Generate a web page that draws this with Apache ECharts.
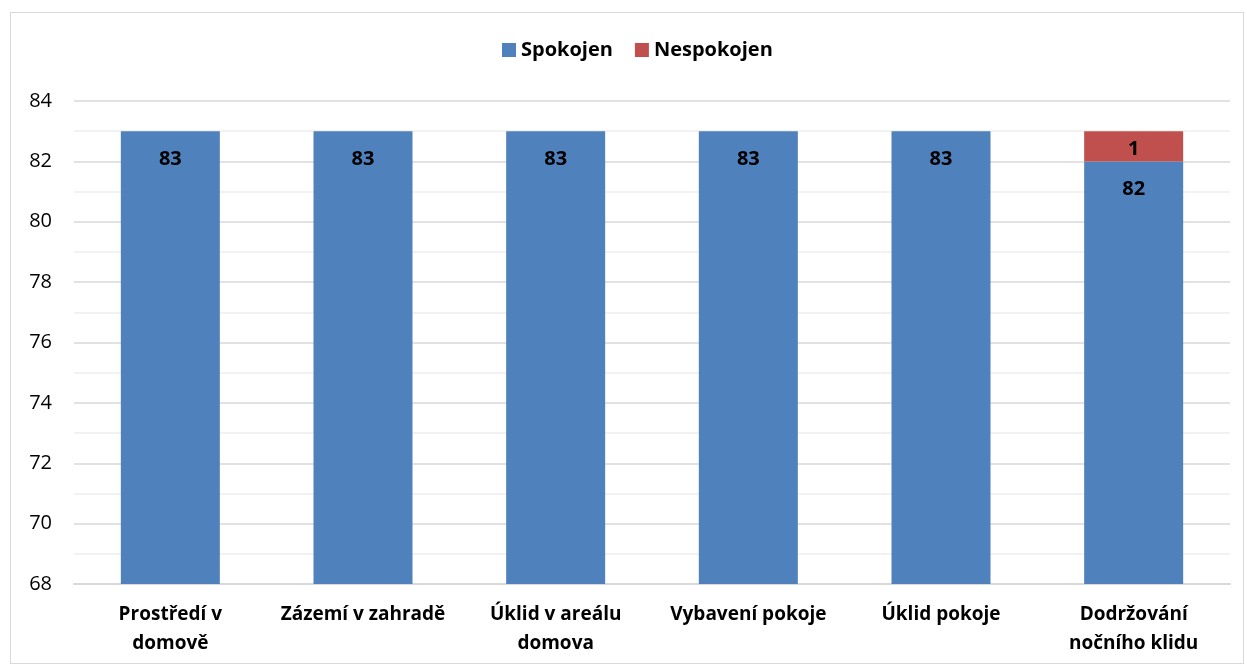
<!DOCTYPE html>
<html>
<head>
<meta charset="utf-8">
<script src="https://cdn.jsdelivr.net/npm/echarts@6/dist/echarts.min.js"></script>
<style>
  html, body { margin: 0; padding: 0; background: #fff; }
  .box {
    position: absolute; left: 10px; top: 12px; width: 1234px; height: 652px;
    border: 1px solid #d9d9d9; box-sizing: border-box;
  }
  #chart { position: absolute; left: 0; top: 0; width: 1247px; height: 667px; }
</style>
</head>
<body>
<div class="box"></div>
<div id="chart"></div>
<script>
// categories and values
const categories = [
  'Prostředí v\ndomově',
  'Zázemí v zahradě',
  'Úklid v areálu\ndomova',
  'Vybavení pokoje',
  'Úklid pokoje',
  'Dodržování\nnočního klidu'
];
const spokojen = [83, 83, 83, 83, 83, 82];
const nespokojen = [0, 0, 0, 0, 0, 1];

const fontFamily = "'Open Sans', 'Noto Sans', sans-serif";

const myChart = echarts.init(document.getElementById('chart'));

const option = {
  animation: false,
  legend: {
    top: 35,
    left: 497,
    itemWidth: 14,
    itemHeight: 14,
    itemGap: 22,
    icon: 'rect',
    textStyle: { fontFamily, fontSize: 20, fontWeight: 'bold', color: '#000', padding: [0, 0, 0, 0] },
    data: ['Spokojen', 'Nespokojen']
  },
  grid: { left: 74, right: 17, top: 101, bottom: 83, containLabel: false },
  xAxis: {
    type: 'category',
    data: categories,
    axisTick: { show: false },
    axisLine: { show: true, lineStyle: { color: '#d9d9d9', width: 2 } },
    axisLabel: {
      interval: 0,
      margin: 16,
      lineHeight: 29,
      fontFamily, fontSize: 19, fontWeight: 'bold', color: '#000'
    }
  },
  yAxis: {
    type: 'value',
    min: 68,
    max: 84,
    interval: 2,
    axisLine: { show: false },
    axisTick: { show: false },
    axisLabel: { margin: 22, fontFamily, fontSize: 20, color: '#000' },
    splitLine: { lineStyle: { color: '#d9d9d9', width: 1.5 } },
    minorTick: { show: false, splitNumber: 2 },
    minorSplitLine: { show: true, lineStyle: { color: '#eeeeee', width: 1.5 } }
  },
  series: [
    {
      name: 'Spokojen',
      type: 'bar',
      stack: 'total',
      data: spokojen,
      barWidth: 99,
      itemStyle: { color: '#4f81bd' },
      label: {
        show: true,
        position: 'insideTop',
        distance: 18,
        fontFamily, fontSize: 20, fontWeight: 'bold', color: '#000'
      }
    },
    {
      name: 'Nespokojen',
      type: 'bar',
      stack: 'total',
      data: nespokojen,
      barWidth: 99,
      itemStyle: { color: '#c0504d' },
      label: {
        show: true,
        position: 'insideTop',
        distance: 8,
        fontFamily, fontSize: 20, fontWeight: 'bold', color: '#000',
        formatter: p => (p.value ? p.value : '')
      }
    }
  ]
};

myChart.setOption(option);
</script>
</body>
</html>
